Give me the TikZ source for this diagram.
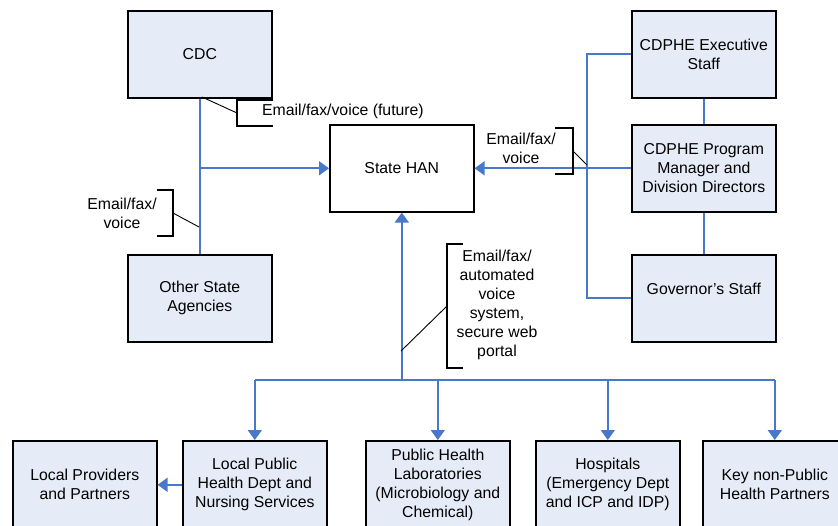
\documentclass[tikz,border=0pt]{standalone}
\usepackage{fontspec}
\setmainfont{Liberation Sans}
\usetikzlibrary{arrows.meta,positioning}
\definecolor{boxfill}{RGB}{230,236,247}
\definecolor{linkblue}{RGB}{72,120,200}

\begin{document}
\begin{tikzpicture}[
		x=1pt, y=-1pt,
		font=\fontsize{15.8}{19}\selectfont,
		box/.style={draw, line width=1.6pt, fill=boxfill, minimum width=144pt, minimum height=87pt,
			align=center, anchor=north west, inner sep=2pt},
		link/.style={draw=linkblue, line width=1.7pt},
		arrow/.style={link, -{Triangle[width=14pt,length=10pt]}},
		brace/.style={line width=1.2pt},
		leader/.style={line width=0.9pt},
		note/.style={align=center, inner sep=0pt},
	]
	\useasboundingbox (0,0) rectangle (838,525);
	\clip (0,0) rectangle (838,525);

	% left senders and the hub
	\node[box] (cdc) at (127,10) {CDC};
	\node[box] (osa) at (127,254) {Other State\\Agencies};
	\node[box, fill=white] (han) at (329,124) {State HAN};

	% CDPHE column
	\node[box] (exec) at (631,10) {CDPHE Executive\\Staff};
	\node[box] (pgm) at (631,124) {CDPHE Program\\Manager and\\Division Directors};
	\node[box] (gov) at (631,254) {Governor's Staff\\\mbox{}};

	% receivers, cut off at the bottom edge
	\node[box, minimum height=88pt] (lpp) at (12,440) {Local Providers\\and Partners};
	\node[box, minimum height=88pt] (lphd) at (182,440) {Local Public\\Health Dept and\\Nursing Services};
	\node[box, minimum height=88pt] (phl) at (365,440) {Public Health\\Laboratories\\(Microbiology and\\Chemical)};
	\node[box, minimum height=88pt] (hosp) at (535,440) {Hospitals\\(Emergency Dept\\and ICP and IDP)};
	\node[box, minimum height=88pt] (knp) at (702,440) {Key non-Public\\Health Partners};

	% blue links
	\draw[link] (cdc) -- (osa);
	\draw[arrow] (cdc.south |- han.west) -- (han.west);
	\draw[link] (exec) -- (pgm);
	\draw[link] (pgm) -- (gov);
	\draw[arrow] (pgm.west) -- (han.east);
	\draw[link] (exec.west) -- ++(-44,0) coordinate (trunk) |- (gov.west);
	\coordinate (busy) at (0,380);
	\draw[arrow] (han.south |- busy) coordinate (hub) -- (han.south);
	\draw[link] (lphd.north |- busy) -- (knp.north |- busy);
	\foreach \n in {lphd,phl,hosp,knp}
		\draw[arrow] (\n.north |- busy) -- (\n.north);
	\draw[arrow] (lphd.west) -- (lpp.east);

	% callouts
	\node[note, anchor=west] (futlbl) at (262,111) {Email/fax/voice (future)};
	\draw[brace] (273,100) -- (237,100) -- (237,126) -- (273,126);
	\coordinate (cdctap) at (202,97);
	\draw[leader] (237,113) -- (cdctap);

	\node[note] (osalbl) at (122,213) {Email/fax/\\voice};
	\draw[brace] (157,190) -- (173,190) -- (173,236) -- (157,236);
	\coordinate (osatap) at (199,227);
	\draw[leader] (173,213) -- (osatap);

	\node[note] (pgmlbl) at (521,148) {Email/fax/\\voice};
	\draw[brace] (555,128) -- (573,128) -- (573,174) -- (555,174);
	\coordinate (pgmtap) at (587,165);
	\draw[leader] (573,151) -- (pgmtap);

	\node[note] (buslbl) at (497,305) {Email/fax/\\automated\\voice\\system,\\secure web\\portal};
	\draw[brace] (463,244) -- (447,244) -- (447,368) -- (463,368);
	\coordinate (bustap) at (401,351);
	\draw[leader] (447,306) -- (bustap);
\end{tikzpicture}
\end{document}
